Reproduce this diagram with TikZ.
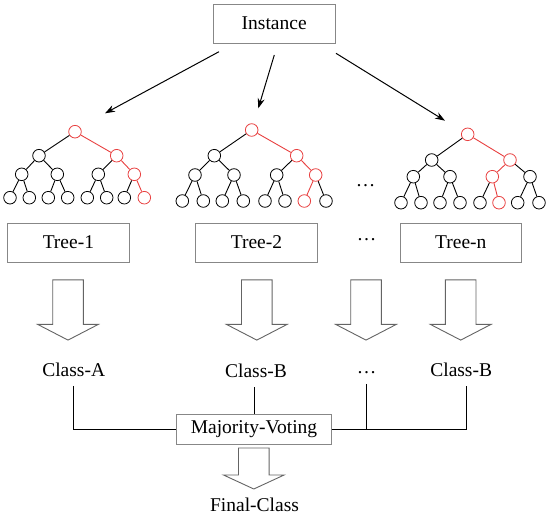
\documentclass[tikz,border=0pt]{standalone}
\usepackage{fontspec}
\setmainfont{Liberation Serif}
\usetikzlibrary{arrows.meta}
\definecolor{rd}{RGB}{232,64,64}
\definecolor{bx}{RGB}{135,135,135}
\definecolor{ba}{RGB}{100,100,100}
\newcommand\blkarrow[4]{%
  \draw[blk] ({#1-15.3},#2) -- ({#1+15.3},#2) -- ({#1+15.3},#3) -- ({#1+30.3},#3)
    -- (#1,#4) -- ({#1-30.3},#3) -- ({#1-15.3},#3) -- cycle;}
\begin{document}
\begin{tikzpicture}[x=1pt,y=-1pt,
  font=\fontsize{19.5}{23}\selectfont,
  box/.style={draw=bx, line width=0.9pt, minimum width=121.5pt, minimum height=39pt, inner sep=0pt, fill=white},
  tn/.style={circle, draw=black, line width=0.8pt, minimum size=12.6pt, inner sep=0pt},
  tr/.style={tn, draw=rd},
  te/.style={draw=black, line width=0.9pt},
  ter/.style={draw=rd, line width=0.9pt},
  cls/.style={inner sep=2pt, text height=13.5pt, text depth=0pt},
  conn/.style={line width=0.9pt},
  ptr/.style={line width=1pt, -{Stealth[length=10pt,width=7pt]}},
  blk/.style={draw=ba, line width=0.9pt, fill=white}]
\useasboundingbox (0,0) rectangle (550,517);

% Instance
\node[box, minimum width=121.7pt, minimum height=39.3pt] (inst) at (274.2,23.7) {Instance};
\coordinate (s1) at (219,51.7);   \coordinate (e1) at (105,113.3);
\coordinate (s2) at (274.3,55);   \coordinate (e2) at (258.3,108.3);
\coordinate (s3) at (336,53.3);   \coordinate (e3) at (445,120.7);
\draw[ptr] (s1) -- (e1);
\draw[ptr] (s2) -- (e2);
\draw[ptr] (s3) -- (e3);

% Trees
\foreach \n/\x/\y/\s in {
  a0/75/131.7/tr, a1/39/155.7/tn, a2/116.7/155.7/tr,
  a3/21.7/174.3/tn, a4/57.3/174.3/tn, a5/98.3/174.3/tn, a6/134.3/174.3/tr,
  a7/10/197.7/tn, a8/29.3/197.7/tn, a9/48.3/197.7/tn, a10/67.7/197.7/tn,
  a11/87.3/197.7/tn, a12/106.7/197.7/tn, a13/124.3/197.7/tn, a14/144.3/197.7/tr,
  b0/251.7/130/tr, b1/214.3/155.7/tn, b2/296.7/155.7/tr,
  b3/195/175/tn, b4/234/175/tn, b5/276.7/175/tn, b6/315.7/175/tr,
  b7/182.3/201/tn, b8/203.3/201/tn, b9/222.3/201/tn, b10/243.3/201/tn,
  b11/265/201/tn, b12/285/201/tn, b13/304.3/201/tr, b14/326/201/tn,
  c0/467.7/134.3/tr, c1/431.7/160/tn, c2/510/160/tr,
  c3/413.3/176.7/tn, c4/450/176.7/tn, c5/492.3/176.7/tr, c6/530/176.7/tn,
  c7/401/202.7/tn, c8/421/202.7/tn, c9/440/202.7/tn, c10/460/202.7/tn,
  c11/480/202.7/tn, c12/499/202.7/tr, c13/517.7/202.7/tn, c14/539/202.7/tn}
  \node[\s] (\n) at (\x,\y) {};
\foreach \p/\q/\s in {
  a0/a1/te, a0/a2/ter, a1/a3/te, a1/a4/te, a2/a5/te, a2/a6/ter,
  a3/a7/te, a3/a8/te, a4/a9/te, a4/a10/te, a5/a11/te, a5/a12/te, a6/a13/te, a6/a14/ter,
  b0/b1/te, b0/b2/ter, b1/b3/te, b1/b4/te, b2/b5/te, b2/b6/ter,
  b3/b7/te, b3/b8/te, b4/b9/te, b4/b10/te, b5/b11/te, b5/b12/te, b6/b13/ter, b6/b14/te,
  c0/c1/te, c0/c2/ter, c1/c3/te, c1/c4/te, c2/c5/ter, c2/c6/te,
  c3/c7/te, c3/c8/te, c4/c9/te, c4/c10/te, c5/c11/te, c5/c12/ter, c6/c13/te, c6/c14/te}
  \draw[\s] (\p) -- (\q);
\node (dt) at (365.5,186) {…};

% Tree boxes
\node[box] (t1) at (68.4,242.5) {Tree-1};
\node[box] (t2) at (256.5,242.5) {Tree-2};
\node (db) at (366.5,240) {…};
\node[box] (tn) at (460.8,242.5) {Tree-n};

% Block arrows
\blkarrow{68}{279.8}{324.4}{340.1}
\blkarrow{256.8}{279.8}{324.4}{340.1}
\blkarrow{366}{279.8}{324.4}{340.1}
\blkarrow{460.7}{279.8}{324.4}{340.1}

% Classes
\node[cls] (ca) at (73.7,370) {Class-A};
\node[cls] (cb) at (256,371) {Class-B};
\node[cls] (dc) at (366.5,367) {…};
\node[cls] (cbr) at (461.2,370) {Class-B};

% Majority voting
\node[box, minimum width=155pt, minimum height=30.5pt] (mv) at (254,429.5) {Majority-Voting};
\draw[conn, shorten <=7pt] (ca.south) |- (mv.west);
\draw[conn, shorten >=7pt] (mv.north) -- (mv.north |- cb.south);
\draw[conn] (mv.east) -| ([xshift=5.3pt,yshift=-7pt]cbr.south);
\draw[conn, shorten <=8pt] (dc.south) -- (dc.south |- mv.east);

\blkarrow{253.8}{448}{475}{489}
\node (fc) at (254.5,505) {Final-Class};
\end{tikzpicture}
\end{document}
